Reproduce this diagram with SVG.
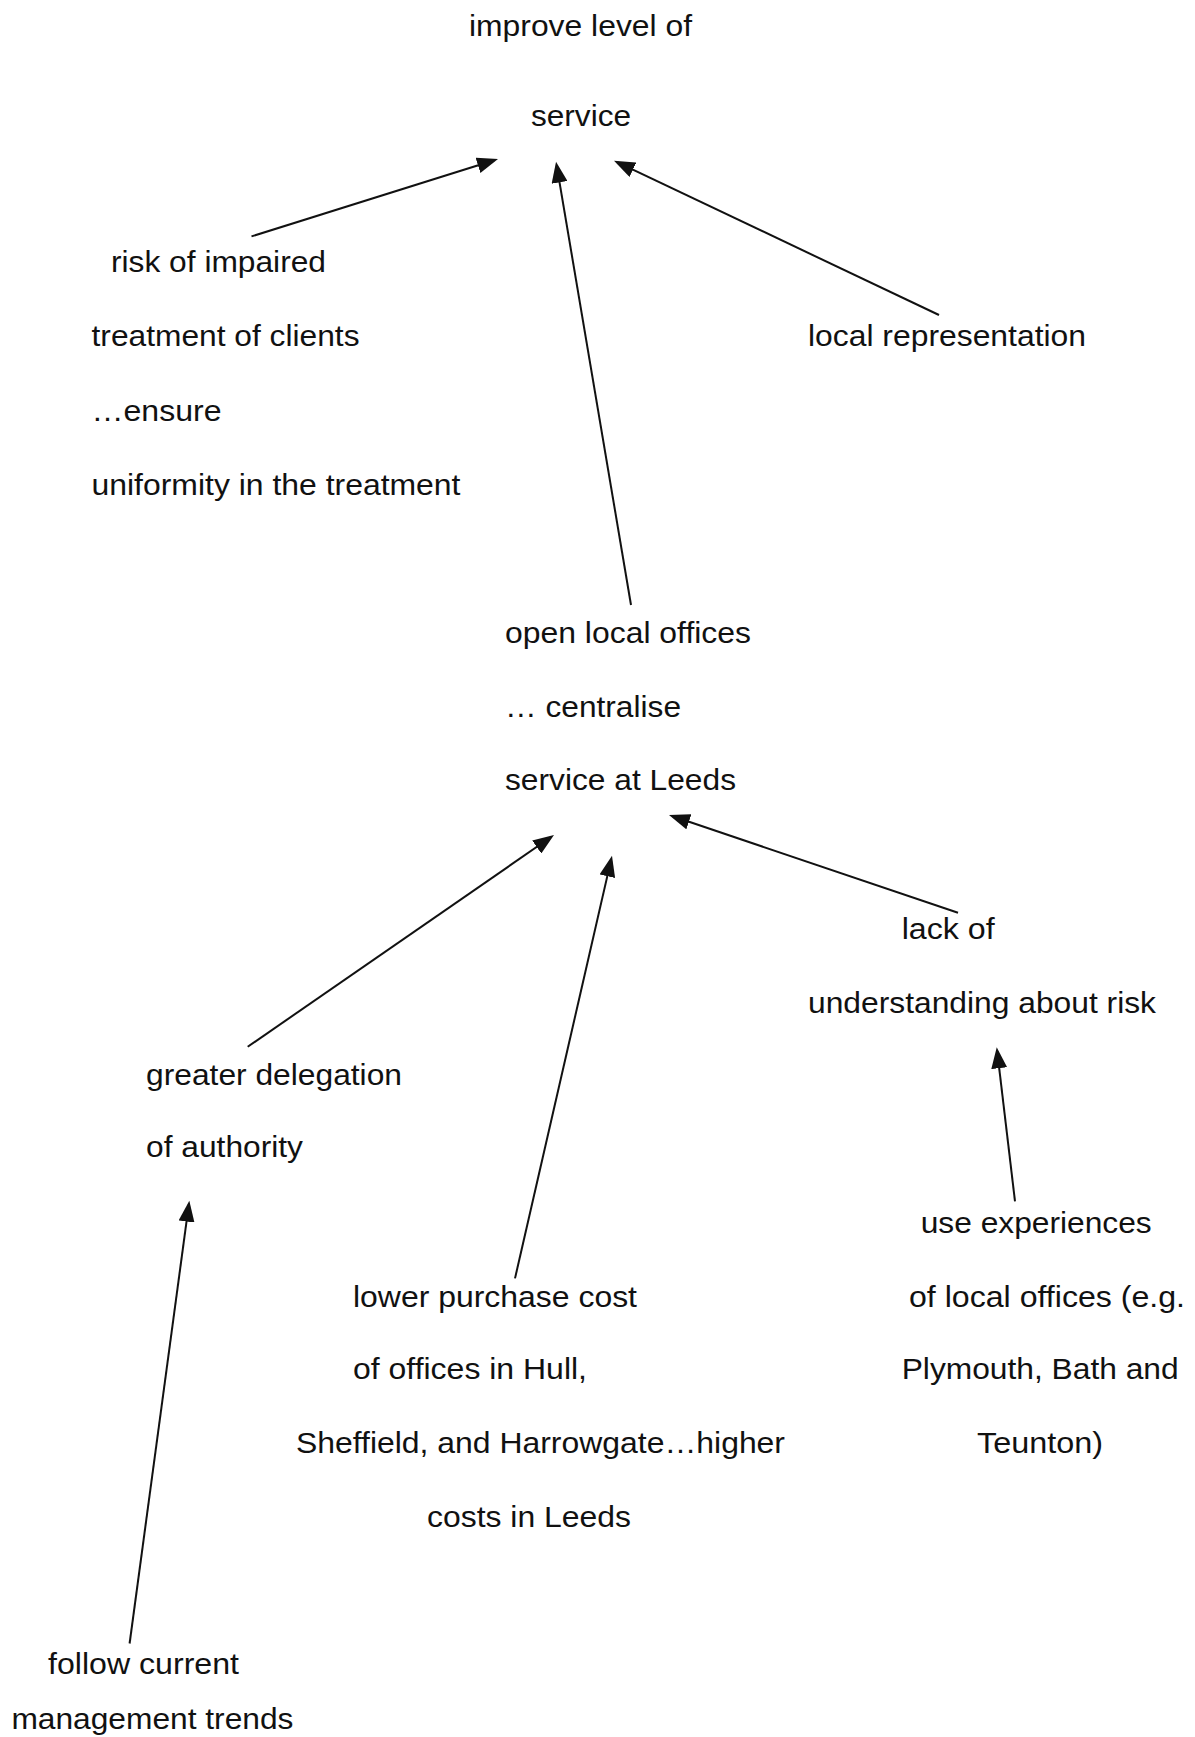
<svg xmlns="http://www.w3.org/2000/svg" width="1195" height="1737" viewBox="0 0 1195 1737">
  <style>
    .lbl { font-family: "Liberation Sans", Arial, sans-serif; font-size: 29px; fill: #111; }
    .edge { stroke: #111; stroke-width: 2; fill: none; marker-end: url(#head); }
  </style>
  <defs>
    <marker id="head" markerUnits="userSpaceOnUse" markerWidth="22" markerHeight="16" refX="17" refY="8" orient="auto">
      <path d="M0,0 L21,8 L0,16 z" fill="#111"/>
    </marker>
  </defs>
  <rect width="1195" height="1737" fill="#fff"/>

  <g id="connectors">
    <line class="edge" x1="251.5" y1="236.4" x2="494.2" y2="160.2"/>
    <line class="edge" x1="631" y1="605" x2="556.7" y2="165.6"/>
    <line class="edge" x1="939" y1="315" x2="617.6" y2="162.4"/>
    <line class="edge" x1="247.7" y1="1046.8" x2="550.7" y2="837.3"/>
    <line class="edge" x1="515" y1="1278.4" x2="611.1" y2="859.6"/>
    <line class="edge" x1="958" y1="912.8" x2="672.8" y2="816.3"/>
    <line class="edge" x1="1015" y1="1201.3" x2="997.2" y2="1051.3"/>
    <line class="edge" x1="129.6" y1="1643.5" x2="188.8" y2="1204.7"/>
  </g>

  <g id="improve-service">
    <text class="lbl" x="469" y="36" textLength="223" lengthAdjust="spacingAndGlyphs">improve level of</text>
    <text class="lbl" x="531" y="126" textLength="100" lengthAdjust="spacingAndGlyphs">service</text>
  </g>

  <g id="impaired-treatment">
    <text class="lbl" x="111" y="272" textLength="215" lengthAdjust="spacingAndGlyphs">risk of impaired</text>
    <text class="lbl" x="91.5" y="346" textLength="268" lengthAdjust="spacingAndGlyphs">treatment of clients</text>
    <text class="lbl" x="91.5" y="420.5" textLength="130" lengthAdjust="spacingAndGlyphs">…ensure</text>
    <text class="lbl" x="91.5" y="494.5" textLength="369" lengthAdjust="spacingAndGlyphs">uniformity in the treatment</text>
  </g>

  <g id="local-representation">
    <text class="lbl" x="808" y="346.4" textLength="278" lengthAdjust="spacingAndGlyphs">local representation</text>
  </g>

  <g id="local-offices">
    <text class="lbl" x="505" y="643.4" textLength="246" lengthAdjust="spacingAndGlyphs">open local offices</text>
    <text class="lbl" x="505" y="717" textLength="176" lengthAdjust="spacingAndGlyphs">… centralise</text>
    <text class="lbl" x="505" y="790" textLength="231" lengthAdjust="spacingAndGlyphs">service at Leeds</text>
  </g>

  <g id="risk-understanding">
    <text class="lbl" x="901.7" y="939" textLength="93" lengthAdjust="spacingAndGlyphs">lack of</text>
    <text class="lbl" x="808" y="1012.7" textLength="348" lengthAdjust="spacingAndGlyphs">understanding about risk</text>
  </g>

  <g id="delegation">
    <text class="lbl" x="146" y="1085" textLength="256" lengthAdjust="spacingAndGlyphs">greater delegation</text>
    <text class="lbl" x="146" y="1157" textLength="157" lengthAdjust="spacingAndGlyphs">of authority</text>
  </g>

  <g id="experiences">
    <text class="lbl" x="920.7" y="1233" textLength="231" lengthAdjust="spacingAndGlyphs">use experiences</text>
    <text class="lbl" x="909" y="1306.5" textLength="276" lengthAdjust="spacingAndGlyphs">of local offices (e.g.</text>
    <text class="lbl" x="901.7" y="1379" textLength="277" lengthAdjust="spacingAndGlyphs">Plymouth, Bath and</text>
    <text class="lbl" x="977" y="1453" textLength="126" lengthAdjust="spacingAndGlyphs">Teunton)</text>
  </g>

  <g id="purchase-cost">
    <text class="lbl" x="353" y="1306.5" textLength="284" lengthAdjust="spacingAndGlyphs">lower purchase cost</text>
    <text class="lbl" x="353" y="1379" textLength="234" lengthAdjust="spacingAndGlyphs">of offices in Hull,</text>
    <text class="lbl" x="296" y="1453" textLength="489" lengthAdjust="spacingAndGlyphs">Sheffield, and Harrowgate…higher</text>
    <text class="lbl" x="427" y="1527" textLength="204" lengthAdjust="spacingAndGlyphs">costs in Leeds</text>
  </g>

  <g id="management-trends">
    <text class="lbl" x="48" y="1674" textLength="191" lengthAdjust="spacingAndGlyphs">follow current</text>
    <text class="lbl" x="11.4" y="1729" textLength="282" lengthAdjust="spacingAndGlyphs">management trends</text>
  </g>
</svg>
